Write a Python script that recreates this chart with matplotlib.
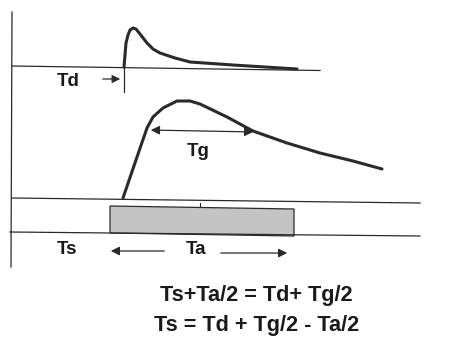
import matplotlib
matplotlib.use("Agg")
import matplotlib.pyplot as plt
from matplotlib.patches import Polygon

# --- diagram data (pixel-space coordinates of the schematic) ---
pulse_x = [124, 125, 126, 128, 130, 133, 136, 140, 147, 153, 160, 175, 190, 233, 297]
pulse_y = [67, 55, 43, 35, 30, 28, 29, 34, 43, 49, 53, 58, 62, 65, 69]

response_x = [123, 137, 147, 153, 163, 177, 190, 200, 227, 253, 287, 320, 353, 382]
response_y = [198, 157, 128, 117, 108, 101, 101, 104, 117, 131, 143, 153, 161, 169]

labels = ["Td", "Tg", "Ts", "Ta"]
label_x = [68, 198, 67, 196]
label_y = [82, 152, 250, 250]

equations = ["Ts+Ta/2 = Td+ Tg/2", "Ts = Td + Tg/2 - Ta/2"]
eq_x = [256, 257]
eq_y = [295, 326]

W, H = 452, 337
fig = plt.figure(figsize=(W / 100, H / 100), dpi=100)
ax = fig.add_axes([0, 0, 1, 1])
ax.set_xlim(0, W)
ax.set_ylim(H, 0)
ax.axis("off")

lc = "#2a2a2a"
# vertical axis
ax.plot([12, 11], [12, 267], color=lc, lw=0.9)
# top baseline
ax.plot([12, 320], [66, 70.5], color=lc, lw=0.9)
# middle band lines
ax.plot([12, 420], [198, 203], color=lc, lw=0.9)
ax.plot([10, 420], [232, 236], color=lc, lw=0.9)

# gray rectangle
rect = Polygon([[110, 206], [294, 209], [294, 236], [110, 233]], closed=True,
               facecolor="#c4c4c4", edgecolor=lc, lw=0.9)
ax.add_patch(rect)
ax.plot([200, 200], [203, 207], color=lc, lw=0.8)

# curves
ax.plot(pulse_x, pulse_y, color=lc, lw=2.2, solid_capstyle="round", solid_joinstyle="round")
ax.plot(response_x, response_y, color=lc, lw=2.2, solid_capstyle="round", solid_joinstyle="round")

# Td tick and arrow
ax.plot([124, 124], [67, 92], color=lc, lw=0.9)
ax.annotate("", xy=(123, 79), xytext=(100, 79),
            arrowprops=dict(arrowstyle="-|>", color=lc, lw=0.9, mutation_scale=12))
# Tg double arrow
ax.annotate("", xy=(148, 130), xytext=(256, 132),
            arrowprops=dict(arrowstyle="<|-|>", color=lc, lw=0.9, mutation_scale=13))
# Ta arrows
ax.annotate("", xy=(108, 251), xytext=(167, 251),
            arrowprops=dict(arrowstyle="-|>", color=lc, lw=0.9, mutation_scale=13))
ax.annotate("", xy=(290, 253), xytext=(218, 253),
            arrowprops=dict(arrowstyle="-|>", color=lc, lw=0.9, mutation_scale=13))

for t, x, y in zip(labels, label_x, label_y):
    ax.text(x, y, t, ha="center", va="center", fontsize=13.5, fontweight="bold",
            family="Liberation Sans", color="#1a1a1a")

for t, x, y in zip(equations, eq_x, eq_y):
    ax.text(x, y, t, ha="center", va="center", fontsize=15.7, fontweight="bold",
            family="Liberation Sans", color="#1a1a1a")

fig.savefig("out.png", dpi=100)
